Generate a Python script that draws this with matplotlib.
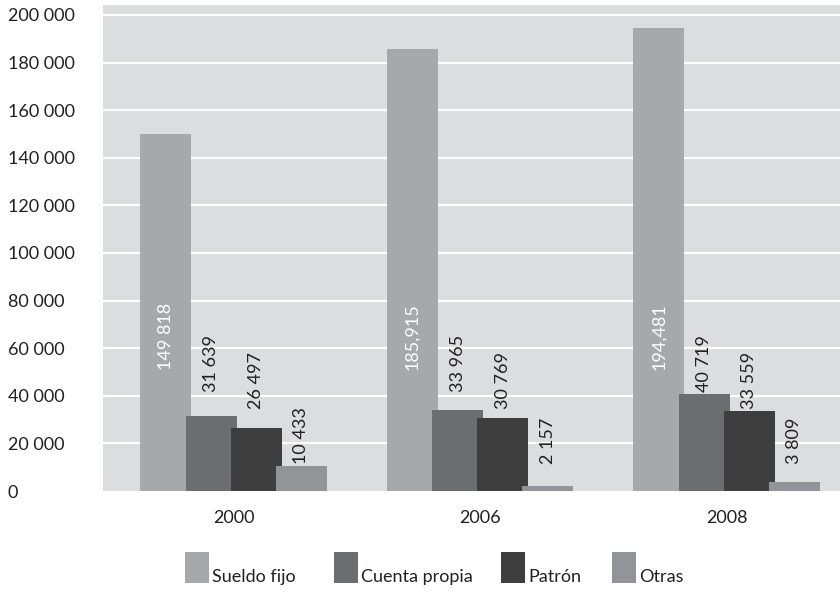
import numpy as np
import matplotlib
matplotlib.use('Agg')
import matplotlib.pyplot as plt
from matplotlib.patches import Rectangle

plt.rcParams['font.family'] = ['Lato', 'DejaVu Sans']

# datos
years = ['2000', '2006', '2008']
series = ['Sueldo fijo', 'Cuenta propia', 'Patrón', 'Otras']
sueldo_fijo = [149818, 185915, 194481]
cuenta_propia = [31639, 33965, 40719]
patron = [26497, 30769, 33559]
otras = [10433, 2157, 3809]
sueldo_labels = ['149 818', '185,915', '194,481']   # tal como aparecen en el original
yticks = [0, 20000, 40000, 60000, 80000, 100000, 120000, 140000, 160000, 180000, 200000]

colors = ['#a7a8ac', '#6c6d71', '#3e3e3e', '#939497']
values = [sueldo_fijo, cuenta_propia, patron, otras]
W, H = 840, 595

def fmt(v):
    return f'{v:,}'.replace(',', ' ')

fig = plt.figure(figsize=(W / 100, H / 100), dpi=100)
ax = fig.add_axes([103/W, 1 - 491/H, 1 - 103/W, 486/H])
ax.set_facecolor('#dcdddf')

x = np.arange(len(years))
step = 0.183
width = 0.207

for i, (vals, col) in enumerate(zip(values, colors)):
    pos = x + (i - 1.5) * step
    ax.bar(pos, vals, width=width, color=col, zorder=2 + i)
    for j, (p, v) in enumerate(zip(pos, vals)):
        if i == 0:
            # etiqueta blanca dentro de la barra
            ax.text(p, 51000, sueldo_labels[j], rotation=90, ha='center', va='bottom',
                    color='white', fontsize=13, zorder=10)
        else:
            ax.text(p, max(vals) + 1000, fmt(v), rotation=90, ha='center', va='bottom',
                    color='#231f20', fontsize=13, zorder=10)

ax.set_xlim(-0.53, 2.46)
ax.set_ylim(0, 204200)
ax.set_yticks(yticks)
ax.set_yticklabels([fmt(t) for t in yticks], ha='left')
ax.set_xticks(x)
ax.set_xticklabels(years)
ax.tick_params(axis='y', length=0, pad=68.4, labelsize=13, labelcolor='#231f20')
ax.tick_params(axis='x', length=0, pad=14, labelsize=13, labelcolor='#231f20')

for t in yticks[1:]:
    ax.axhline(t, color='white', linewidth=1.6, zorder=1)

for s in ax.spines.values():
    s.set_visible(False)

# leyenda dibujada a mano (rectangulos altos, texto alineado abajo)
leg_x = [185, 334, 501, 612]
for lx, c, s in zip(leg_x, colors, series):
    fig.patches.append(Rectangle((lx / W, 1 - 583 / H), 24 / W, 31 / H,
                                 transform=fig.transFigure, facecolor=c, edgecolor='none'))
    fig.text((lx + 27) / W, 1 - 582 / H, s, fontsize=13, color='#231f20',
             ha='left', va='baseline')

fig.savefig('out.png', dpi=100, facecolor='white')
